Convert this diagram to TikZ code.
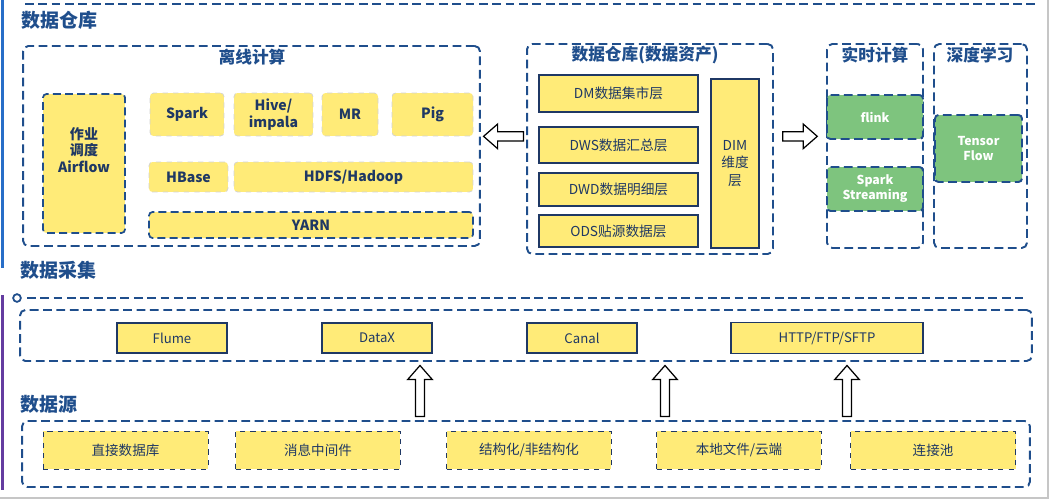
\documentclass[tikz,border=0pt]{standalone}
\usepackage{fontspec}
\setmainfont{Noto Sans CJK SC}
\usetikzlibrary{calc}
\definecolor{dkblue}{RGB}{31,78,140}
\definecolor{navy}{RGB}{31,56,100}
\definecolor{boxyellow}{RGB}{255,235,120}
\definecolor{boxgreen}{RGB}{126,196,126}
\definecolor{barblue}{RGB}{40,110,200}
\definecolor{barpurple}{RGB}{100,60,160}

\begin{document}
\begin{tikzpicture}[x=0.02cm, y=-0.02cm,
    group/.style={rectangle, rounded corners=3pt, draw=dkblue, line width=1.1pt, dash pattern=on 5pt off 2.6pt, inner sep=0pt},
    head/.style={anchor=west, inner sep=0pt, text=dkblue, font=\fontsize{10.8}{12}\selectfont\bfseries},
    gtitle/.style={inner sep=0pt, text=dkblue, font=\fontsize{9.5}{11}\selectfont\bfseries},
    comp/.style={rectangle, rounded corners=2pt, fill=boxyellow, draw=gray!35, dashed, inner sep=1pt, align=center, text=navy, font=\fontsize{8}{9.5}\selectfont\bfseries},
    sched/.style={comp, draw=dkblue, line width=1pt, dash pattern=on 4.5pt off 2.4pt},
    layer/.style={rectangle, fill=boxyellow, draw=navy, line width=1.1pt, inner sep=1pt, align=center, text=navy, font=\fontsize{7.8}{10}\selectfont},
    rtbox/.style={rectangle, rounded corners=2pt, fill=boxgreen, draw=dkblue, line width=1.1pt, dash pattern=on 5pt off 2.6pt, align=center, text=white, font=\fontsize{7}{8.5}\selectfont\bfseries},
    tool/.style={layer, font=\fontsize{7.5}{9}\selectfont},
    srcbox/.style={rectangle, fill=boxyellow, draw=navy, line width=0.5pt, dashed, align=center, text=navy, font=\fontsize{7.7}{9}\selectfont},
    hgap/.initial=2pt,
    hollow/.style={draw=black, fill=white, line width=0.7pt, line join=miter,
        to path={
            ($(\tikztostart)!\pgfkeysvalueof{/tikz/hgap}!(\tikztotarget)!2.6pt!90:(\tikztotarget)$)
         -- ($(\tikztotarget)!\pgfkeysvalueof{/tikz/hgap}!(\tikztostart)!8pt!(\tikztostart)!2.6pt!-90:(\tikztostart)$)
         -- ($(\tikztotarget)!\pgfkeysvalueof{/tikz/hgap}!(\tikztostart)!8pt!(\tikztostart)!7pt!-90:(\tikztostart)$)
         -- ($(\tikztotarget)!\pgfkeysvalueof{/tikz/hgap}!(\tikztostart)$)
         -- ($(\tikztotarget)!\pgfkeysvalueof{/tikz/hgap}!(\tikztostart)!8pt!(\tikztostart)!7pt!90:(\tikztostart)$)
         -- ($(\tikztotarget)!\pgfkeysvalueof{/tikz/hgap}!(\tikztostart)!8pt!(\tikztostart)!2.6pt!90:(\tikztostart)$)
         -- ($(\tikztostart)!\pgfkeysvalueof{/tikz/hgap}!(\tikztotarget)!2.6pt!-90:(\tikztotarget)$)
         -- cycle}}
]
\useasboundingbox (0,0) rectangle (1050,500);

% frame
\draw[gray!45, line width=0.8pt] (1048,0) -- (1048,498) -- (0,498);
\draw[barblue, line width=2pt] (2.5,0) -- (2.5,268);
\draw[barpurple, line width=2pt] (2.5,295) -- (2.5,490);
\draw[dkblue, line width=1.1pt, dash pattern=on 5pt off 2.6pt] (25,4) -- (1038,4);

% 数据仓库
\node[head] (hwh) at (21,20) {数据仓库};

% offline
\node[group, minimum width=9.14cm, minimum height=4cm] (off) at (251.5,146) {};
\node[gtitle] (offt) at (252,57) {离线计算};
\node[sched, minimum width=1.64cm, minimum height=2.78cm] (air) at (84,163.5) {作业\\调度\\Airflow\\[6pt]\mbox{}};
\node[comp, minimum width=1.48cm, minimum height=0.86cm] (spark) at (187,114.5) {Spark};
\node[comp, minimum width=1.58cm, minimum height=0.86cm] (hive) at (273.5,114.5) {Hive/\\impala};
\node[comp, minimum width=1.12cm, minimum height=0.86cm] (mr) at (350,114.5) {MR};
\node[comp, minimum width=1.62cm, minimum height=0.86cm] (pig) at (432.5,114.5) {Pig};
\node[comp, minimum width=1.58cm, minimum height=0.6cm] (hbase) at (188.5,177) {HBase};
\node[comp, minimum width=4.78cm, minimum height=0.6cm] (hdfs) at (353.5,177) {HDFS/Hadoop};
\node[sched, minimum width=6.48cm, minimum height=0.52cm] (yarn) at (311,225) {YARN};

% warehouse layers
\node[group, minimum width=4.92cm, minimum height=4.2cm] (dw) at (650,149) {};
\node[gtitle] (dwt) at (645,55) {数据仓库(数据资产)};
\node[layer, minimum width=3.18cm, minimum height=0.74cm] (dm) at (618.5,93.5) {DM数据集市层};
\node[layer, minimum width=3.18cm, minimum height=0.72cm] (dws) at (618.5,145) {DWS数据汇总层};
\node[layer, minimum width=3.18cm, minimum height=0.66cm] (dwd) at (618.5,189.5) {DWD数据明细层};
\node[layer, minimum width=3.18cm, minimum height=0.64cm] (ods) at (618.5,231) {ODS贴源数据层};
\node[layer, minimum width=0.96cm, minimum height=3.38cm] (dim) at (735,163.5) {DIM\\维度\\层};

% realtime / deep learning
\node[group, minimum width=1.92cm, minimum height=4.08cm] (rt) at (875,146) {};
\node[gtitle] (rtt) at (875,55) {实时计算};
\node[rtbox, minimum width=1.92cm, minimum height=0.88cm] (flink) at (875,117) {flink};
\node[rtbox, minimum width=1.92cm, minimum height=0.88cm] (sst) at (875,189) {Spark\\Streaming};
\node[group, minimum width=1.86cm, minimum height=4.08cm] (dl) at (980.5,146) {};
\node[gtitle] (dlt) at (980,55) {深度学习};
\node[rtbox, minimum width=1.74cm, minimum height=1.34cm] (tf) at (978.5,148.5) {Tensor\\Flow};

\draw[hollow, hgap=1.5pt] (dw.west |- pig.south) to (off.east |- pig.south);
\draw[hollow, hgap=5pt] (dw.east |- pig.south) to (rt.west |- pig.south);

% 数据采集
\node[head] (hcol) at (20,270) {数据采集};
\draw[dkblue, line width=1.1pt, dash pattern=on 5pt off 2.6pt] (27,298) -- (1023,298);
\draw[dkblue, line width=1pt, fill=white] (17,298) circle (2.2pt);
\node[group, minimum width=20.24cm, minimum height=1.02cm] (col) at (526,335.5) {};
\node[tool, minimum width=2.2cm, minimum height=0.6cm] (flume) at (172,338) {Flume};
\node[tool, minimum width=2.2cm, minimum height=0.6cm] (datax) at (377,338) {DataX};
\node[tool, minimum width=2.2cm, minimum height=0.6cm] (canal) at (582,338) {Canal};
\node[tool, minimum width=3.84cm, minimum height=0.62cm] (http) at (827,338) {HTTP/FTP/SFTP};

% 数据源
\node[head] (hsrc) at (20,404) {数据源};
\node[group, minimum width=20.16cm, minimum height=1.32cm] (src) at (526,454) {};
\node[srcbox, minimum width=3.3cm, minimum height=0.76cm] (db) at (125.5,450) {直接数据库};
\node[srcbox, minimum width=3.3cm, minimum height=0.76cm] (mq) at (318,450) {消息中间件};
\node[srcbox, minimum width=3.3cm, minimum height=0.76cm] (st) at (529,450) {结构化/非结构化};
\node[srcbox, minimum width=3.3cm, minimum height=0.76cm] (fs) at (739,450) {本地文件/云端};
\node[srcbox, minimum width=3.3cm, minimum height=0.76cm] (pool) at (933,450) {连接池};

\coordinate (up1) at (420,0);
\coordinate (up2) at (665,0);
\coordinate (up3) at (847,0);
\foreach \u in {up1, up2, up3}
    \draw[hollow] (src.north -| \u) to (col.south -| \u);

\end{tikzpicture}
\end{document}
